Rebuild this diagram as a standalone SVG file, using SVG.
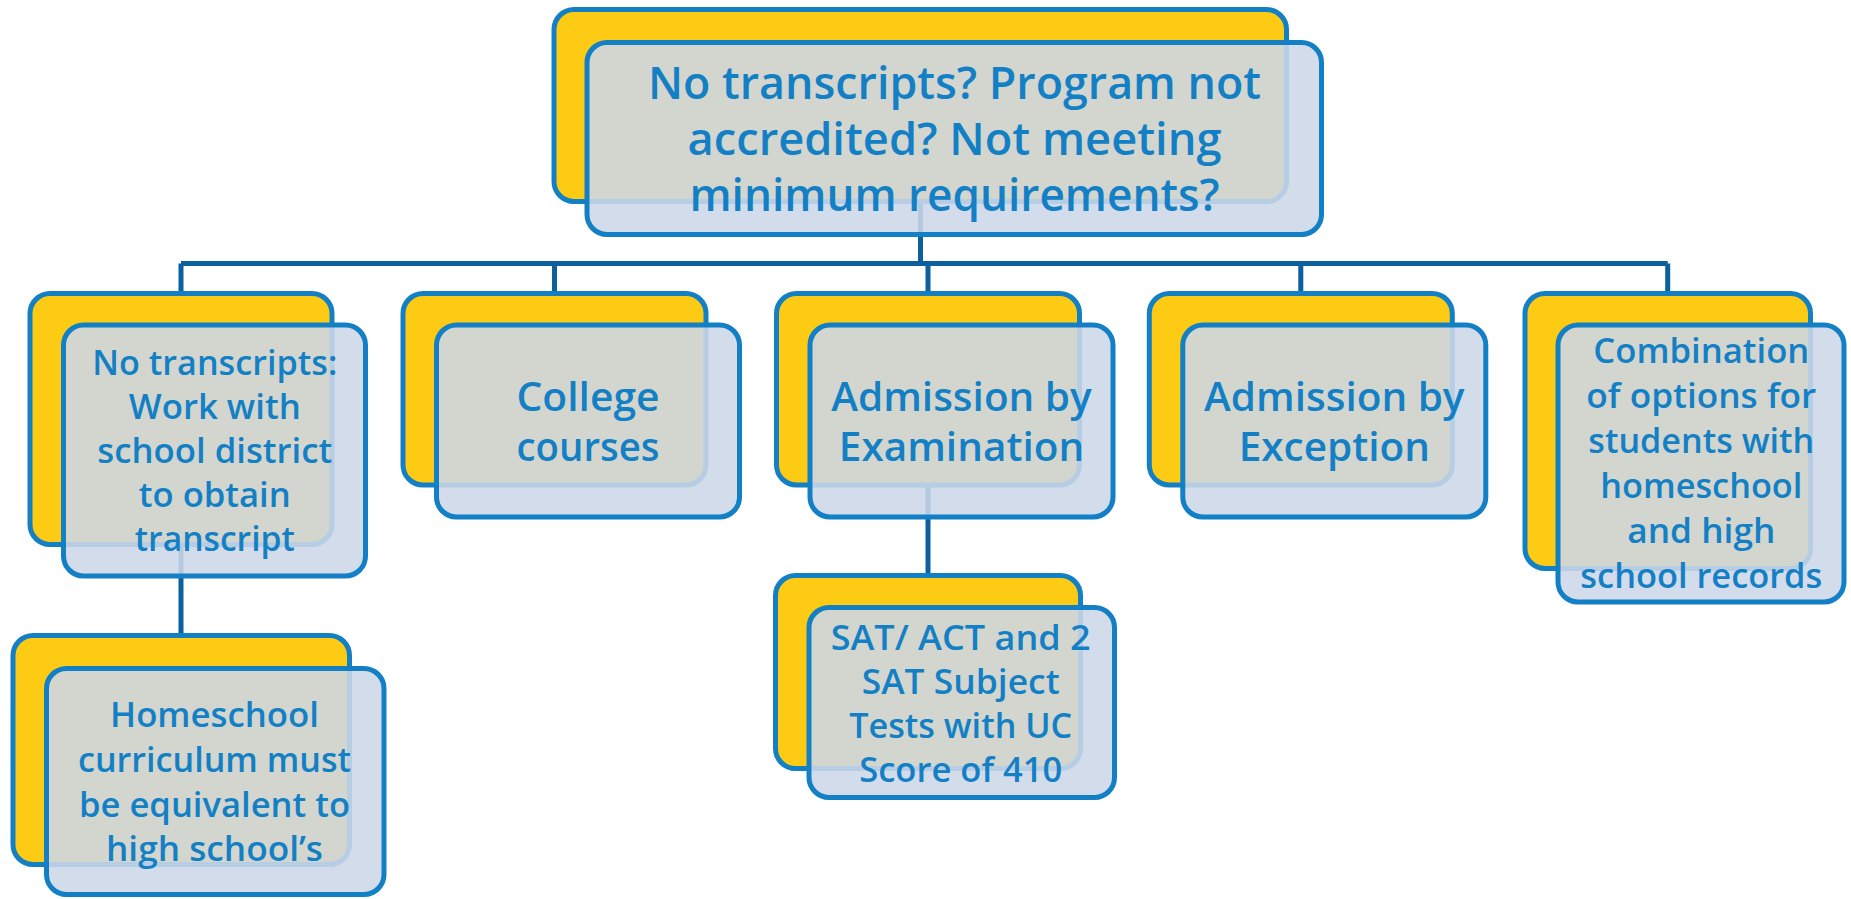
<svg xmlns="http://www.w3.org/2000/svg" width="1851" height="899" viewBox="0 0 1851 899">
<style>
.back{fill:#FECB14;stroke:#1380C6;stroke-width:5}
.front{fill:#CDD7E8;fill-opacity:0.88;stroke:#1380C6;stroke-width:5}
.conn{fill:none;stroke:#0C609E;stroke-width:5}
text{font-family:"Open Sans","Noto Sans","Liberation Sans",sans-serif;font-weight:600;fill:#1380C6;text-anchor:middle}
.t45{font-size:45.5px}
.t40{font-size:40.5px}
.t36{font-size:36px}
.t35{font-size:35px}
.t34{font-size:34.5px}
</style>
<rect width="1851" height="899" fill="#FFFFFF"/>
<g id="connectors">
<path class="conn" d="M920.5,201 V263.5 M181,263.5 H1667.7 M181,263.5 V294 M554.5,263.5 V294 M928,263.5 V294 M1300.8,263.5 V294 M1667.7,263.5 V294"/>
<path class="conn" d="M181,544 V636"/>
<path class="conn" d="M928,485 V576"/>
</g>
<g id="node-root">
<rect class="back" x="554" y="9.5" width="732.5" height="192" rx="20"/>
<rect class="front" x="587" y="42.5" width="734.5" height="192" rx="20"/>
<text class="t45"><tspan x="954.5" y="99" textLength="613" lengthAdjust="spacingAndGlyphs">No transcripts? Program not</tspan><tspan x="954.5" y="155" textLength="534" lengthAdjust="spacingAndGlyphs">accredited? Not meeting</tspan><tspan x="954.5" y="211" textLength="530" lengthAdjust="spacingAndGlyphs">minimum requirements?</tspan></text>
</g>
<g id="node-transcripts">
<rect class="back" x="30" y="293.5" width="302" height="251" rx="20"/>
<rect class="front" x="63.5" y="325" width="302" height="251" rx="20"/>
<text class="t34"><tspan x="214.8" y="375" textLength="245" lengthAdjust="spacingAndGlyphs">No transcripts:</tspan><tspan x="214.8" y="418.5" textLength="172" lengthAdjust="spacingAndGlyphs">Work with</tspan><tspan x="214.8" y="463" textLength="235" lengthAdjust="spacingAndGlyphs">school district</tspan><tspan x="214.8" y="507" textLength="152" lengthAdjust="spacingAndGlyphs">to obtain</tspan><tspan x="214.8" y="550.5" textLength="160" lengthAdjust="spacingAndGlyphs">transcript</tspan></text>
</g>
<g id="node-college">
<rect class="back" x="403" y="293.5" width="303" height="191.5" rx="20"/>
<rect class="front" x="436.5" y="325" width="303" height="192" rx="20"/>
<text class="t40"><tspan x="588" y="411" textLength="143" lengthAdjust="spacingAndGlyphs">College</tspan><tspan x="588" y="461" textLength="143" lengthAdjust="spacingAndGlyphs">courses</tspan></text>
</g>
<g id="node-examination">
<rect class="back" x="776.5" y="293.5" width="303" height="191.5" rx="20"/>
<rect class="front" x="810" y="325" width="303" height="192" rx="20"/>
<text class="t40"><tspan x="961.5" y="411">Admission by</tspan><tspan x="961.5" y="461">Examination</tspan></text>
</g>
<g id="node-exception">
<rect class="back" x="1149.3" y="293.5" width="303" height="191.5" rx="20"/>
<rect class="front" x="1182.8" y="325" width="303" height="192" rx="20"/>
<text class="t40"><tspan x="1334.3" y="411">Admission by</tspan><tspan x="1334.3" y="461">Exception</tspan></text>
</g>
<g id="node-combination">
<rect class="back" x="1525" y="293.5" width="285.5" height="275" rx="20"/>
<rect class="front" x="1558" y="325" width="286" height="277" rx="20"/>
<text class="t35"><tspan x="1701.3" y="363.3" textLength="216" lengthAdjust="spacingAndGlyphs">Combination</tspan><tspan x="1701.3" y="408.3" textLength="230" lengthAdjust="spacingAndGlyphs">of options for</tspan><tspan x="1701.3" y="453.3" textLength="226" lengthAdjust="spacingAndGlyphs">students with</tspan><tspan x="1701.3" y="498.3" textLength="202" lengthAdjust="spacingAndGlyphs">homeschool</tspan><tspan x="1701.3" y="543.3" textLength="148" lengthAdjust="spacingAndGlyphs">and high</tspan><tspan x="1701.3" y="588.3" textLength="242" lengthAdjust="spacingAndGlyphs">school records</tspan></text>
</g>
<g id="node-homeschool">
<rect class="back" x="13" y="635.5" width="336.5" height="229" rx="20"/>
<rect class="front" x="46.5" y="668.5" width="337.5" height="226" rx="20"/>
<text class="t35"><tspan x="214.5" y="727.3" textLength="209" lengthAdjust="spacingAndGlyphs">Homeschool</tspan><tspan x="214.5" y="771.7" textLength="273" lengthAdjust="spacingAndGlyphs">curriculum must</tspan><tspan x="214.5" y="816.5" textLength="271" lengthAdjust="spacingAndGlyphs">be equivalent to</tspan><tspan x="214.5" y="860.5" textLength="217" lengthAdjust="spacingAndGlyphs">high school’s</tspan></text>
</g>
<g id="node-sat">
<rect class="back" x="775.5" y="575.5" width="305" height="193" rx="20"/>
<rect class="front" x="809" y="607.5" width="305.5" height="190" rx="20"/>
<text class="t35"><tspan x="960.7" y="650" textLength="260" lengthAdjust="spacingAndGlyphs">SAT/ ACT and 2</tspan><tspan x="960.7" y="694" textLength="198" lengthAdjust="spacingAndGlyphs">SAT Subject</tspan><tspan x="960.7" y="738" textLength="223" lengthAdjust="spacingAndGlyphs">Tests with UC</tspan><tspan x="960.7" y="782" textLength="203" lengthAdjust="spacingAndGlyphs">Score of 410</tspan></text>
</g>
</svg>
